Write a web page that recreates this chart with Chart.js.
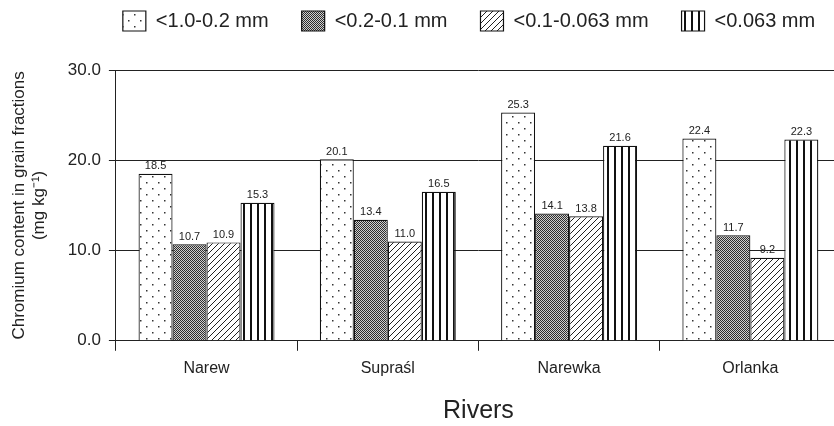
<!DOCTYPE html>
<html>
<head>
<meta charset="utf-8">
<script src="https://cdn.jsdelivr.net/npm/chart.js@4.4.1/dist/chart.umd.min.js"></script>
<style>
  html, body { margin: 0; padding: 0; background: #fff; overflow: hidden; }
  #wrap { width: 846px; height: 426px; }
</style>
</head>
<body>
<div id="wrap"><canvas id="crChart" width="846" height="426"></canvas></div>
<script>
// chart data
const rivers = ['Narew', 'Supraśl', 'Narewka', 'Orlanka'];
const fractionNames = ['<1.0-0.2 mm', '<0.2-0.1 mm', '<0.1-0.063 mm', '<0.063 mm'];
const coarse = [18.5, 20.1, 25.3, 22.4];
const medium = [10.7, 13.4, 14.1, 11.7];
const fine = [10.9, 11.0, 13.8, 9.2];
const finest = [15.3, 16.5, 21.6, 22.3];
const yTicks = [0, 10, 20, 30];

const FONT = "'Liberation Sans', Arial, sans-serif";

// make a small tile canvas and turn it into a pattern
function makePattern(w, h, drawTile) {
  const c = document.createElement('canvas');
  c.width = w;
  c.height = h;
  const g = c.getContext('2d');
  g.fillStyle = '#fff';
  g.fillRect(0, 0, w, h);
  drawTile(g);
  return document.getElementById('crChart').getContext('2d').createPattern(c, 'repeat');
}

const dotPattern = makePattern(12, 12, g => {
  g.fillStyle = '#333';
  g.fillRect(2, 2, 1.5, 1.5);
  g.fillRect(8, 8, 1.5, 1.5);
});

// fine dark checker
const meshPattern = makePattern(2, 2, g => {
  g.fillStyle = '#cfcfcf';
  g.fillRect(0, 0, 2, 2);
  g.fillStyle = '#2e2e2e';
  g.fillRect(0, 0, 1, 1);
  g.fillRect(1, 1, 1, 1);
});

const hatchPattern = makePattern(6, 6, g => {
  g.strokeStyle = '#222';
  g.lineWidth = 1;
  g.beginPath();
  g.moveTo(0, 6); g.lineTo(6, 0);
  g.moveTo(-1, 1); g.lineTo(1, -1);
  g.moveTo(5, 7); g.lineTo(7, 5);
  g.stroke();
});

const stripePattern = makePattern(7, 7, g => {
  g.fillStyle = '#111';
  g.fillRect(5, 0, 2, 7);
});

// value labels above bars
const valueLabels = {
  id: 'valueLabels',
  afterDatasetsDraw(chart) {
    const ctx = chart.ctx;
    ctx.save();
    ctx.font = '11px ' + FONT;
    ctx.fillStyle = '#222';
    ctx.textAlign = 'center';
    ctx.textBaseline = 'bottom';
    chart.data.datasets.forEach((ds, di) => {
      const meta = chart.getDatasetMeta(di);
      meta.data.forEach((bar, i) => {
        ctx.fillText(ds.data[i].toFixed(1), bar.x, bar.y - 2);
      });
    });
    ctx.restore();
  }
};

// move legend so it sits like in the original
const legendShift = {
  id: 'legendShift',
  afterLayout(chart) {
    const lg = chart.legend;
    if (!lg) return;
    lg.left += 44;
    lg.right += 44;
    lg.top -= 29;
    lg.bottom -= 29;
  }
};

function dataset(label, values, pattern) {
  return {
    label: label,
    data: values,
    backgroundColor: pattern,
    borderColor: '#111',
    borderWidth: 1.2,
    categoryPercentage: 0.75,
    barPercentage: 1.0
  };
}

new Chart(document.getElementById('crChart'), {
  type: 'bar',
  data: {
    labels: rivers,
    datasets: [
      dataset(fractionNames[0], coarse, dotPattern),
      dataset(fractionNames[1], medium, meshPattern),
      dataset(fractionNames[2], fine, hatchPattern),
      dataset(fractionNames[3], finest, stripePattern)
    ]
  },
  options: {
    responsive: false,
    devicePixelRatio: 1,
    animation: false,
    layout: { padding: { left: 9, right: 5, top: 7, bottom: 0 } },
    plugins: {
      legend: {
        position: 'top',
        labels: {
          boxWidth: 23,
          boxHeight: 20,
          padding: 33,
          color: '#222',
          font: { family: FONT, size: 20 }
        }
      },
      tooltip: { enabled: false }
    },
    scales: {
      x: {
        grid: {
          drawOnChartArea: false,
          tickLength: 10,
          color: '#222'
        },
        border: { color: '#222' },
        ticks: {
          color: '#222',
          padding: 8,
          font: { family: FONT, size: 16 }
        },
        title: {
          display: true,
          text: 'Rivers',
          color: '#222',
          padding: { top: 10, bottom: 0 },
          font: { family: FONT, size: 25 }
        }
      },
      y: {
        min: 0,
        max: 30,
        afterBuildTicks: axis => { axis.ticks = yTicks.map(v => ({ value: v })); },
        grid: {
          color: '#222',
          tickLength: 7
        },
        border: { color: '#222' },
        ticks: {
          color: '#222',
          padding: 8,
          font: { family: FONT, size: 17 },
          callback: v => Number(v).toFixed(1)
        },
        title: {
          display: true,
          text: ['Chromium content in grain fractions', '(mg kg\u207B\u00B9)'],
          color: '#222',
          padding: { top: 0, bottom: 10 },
          font: { family: FONT, size: 17 }
        }
      }
    }
  },
  plugins: [valueLabels, legendShift]
});
</script>
</body>
</html>
